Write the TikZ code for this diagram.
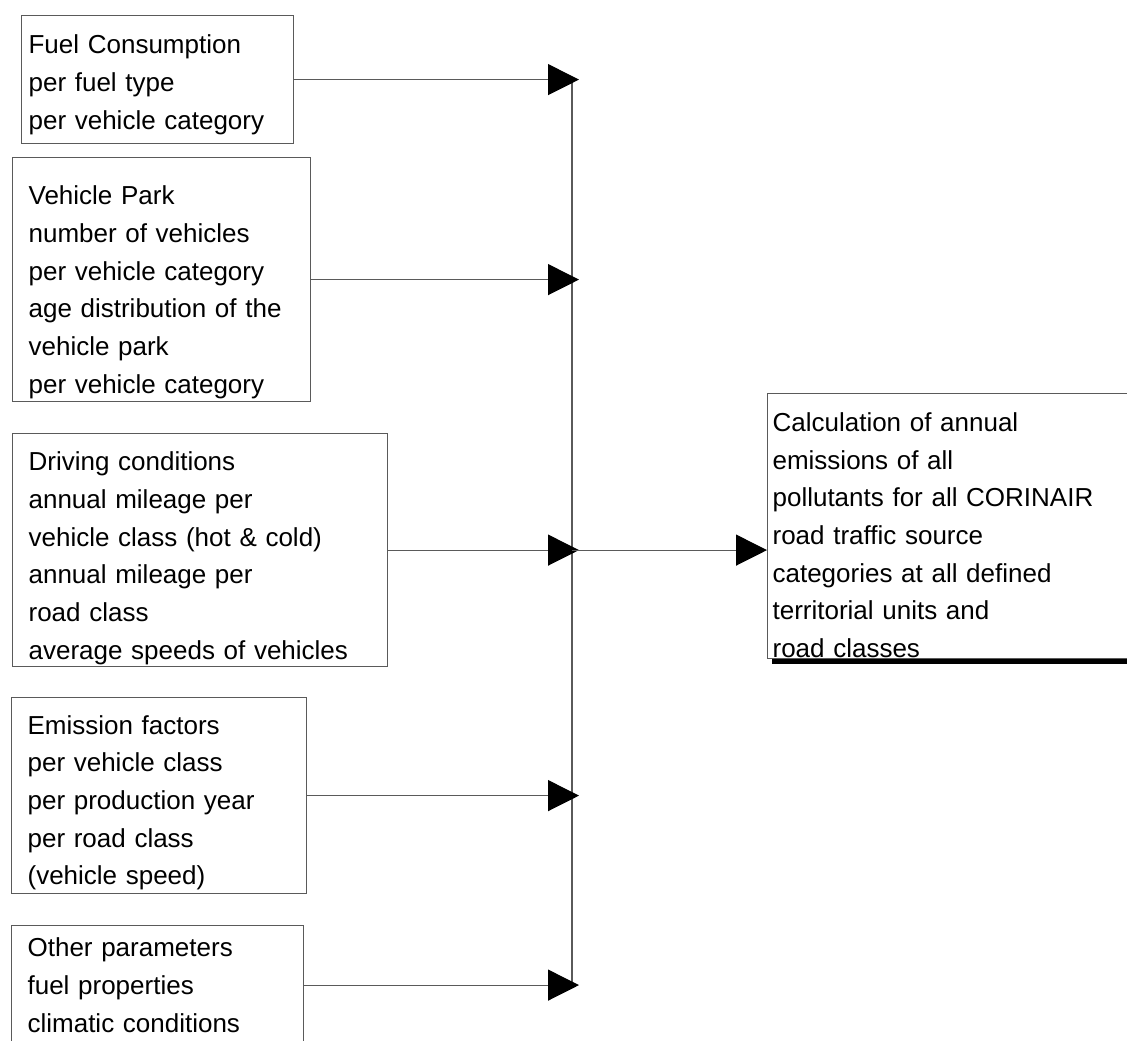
\documentclass[tikz,border=0pt]{standalone}
\usepackage{fontspec}
\setmainfont{Liberation Sans}
\usepackage{tikz}
\usetikzlibrary{arrows.meta, shadows}
\definecolor{boxgray}{RGB}{90,90,90}

\begin{document}
\begin{tikzpicture}[
    x=1pt, y=-1pt,
    every node/.style={font=\fontsize{26}{37.7}\selectfont},
    input/.style={rectangle, draw=boxgray, line width=1.2pt, anchor=north west, inner xsep=16pt, inner ysep=0pt, align=left},
    textdrop/.style={execute at begin node={\rule{0pt}{#1}}},
    result/.style={input, fill=white, inner xsep=5pt, drop shadow={shadow xshift=4pt, shadow yshift=-5pt, fill=black, opacity=1}},
    arrow/.style={draw=boxgray, line width=1.2pt, -{Triangle[length=31pt, width=31pt, color=black]}},
    wire/.style={draw=boxgray, line width=1.2pt}
]
    \useasboundingbox (0,0) rectangle (1127,1041);
    \clip (0,0) rectangle (1127,1041);

    % Input data
    \node[input, textdrop=29pt, inner xsep=7pt, minimum width=272pt, minimum height=128pt, text width=258pt] (fuel) at (21,15) {Fuel Consumption\\ per fuel type\\ per vehicle category};
    \node[input, textdrop=44pt, minimum width=298pt, minimum height=244pt, text width=266pt] (park) at (12,157) {Vehicle Park\\ number of vehicles\\ per vehicle category\\ age distribution of the\\ vehicle park\\ per vehicle category};
    \node[input, textdrop=35pt, minimum width=375pt, minimum height=233pt, text width=343pt] (drive) at (12,433) {Driving conditions\\ annual mileage per\\ vehicle class (hot \& cold)\\ annual mileage per\\ road class\\ average speeds of vehicles};
    \node[input, textdrop=33pt, minimum width=295pt, minimum height=196pt, text width=263pt] (factor) at (11,697) {Emission factors\\ per vehicle class\\ per production year\\ per road class\\ (vehicle speed)};
    \node[input, minimum width=292pt, minimum height=119pt, text width=260pt] (other) at (11,925) {Other parameters\\ fuel properties\\ climatic conditions};

    % Result
    \node[result, textdrop=37pt, minimum width=420pt, minimum height=265pt, text width=410pt] (calc) at (767,393) {Calculation of annual\\ emissions of all\\ pollutants for all CORINAIR\\ road traffic source\\ categories at all defined\\ territorial units and\\ road classes};

    % Collecting line
    \coordinate (bus) at (572,0);
    \draw[wire] (fuel.east -| bus) -- (other.east -| bus);

    % Arrows
    \draw[arrow, shorten >=-7pt] (fuel.east) -- (fuel.east -| bus);
    \draw[arrow, shorten >=-7pt] (park.east) -- (park.east -| bus);
    \draw[arrow, shorten >=-7pt] (drive.east) -- (drive.east -| bus);
    \draw[arrow, shorten >=-7pt] (factor.east) -- (factor.east -| bus);
    \draw[arrow, shorten >=-7pt] (other.east) -- (other.east -| bus);
    \draw[arrow] (drive.east -| bus) -- (drive.east -| calc.west);
\end{tikzpicture}
\end{document}
